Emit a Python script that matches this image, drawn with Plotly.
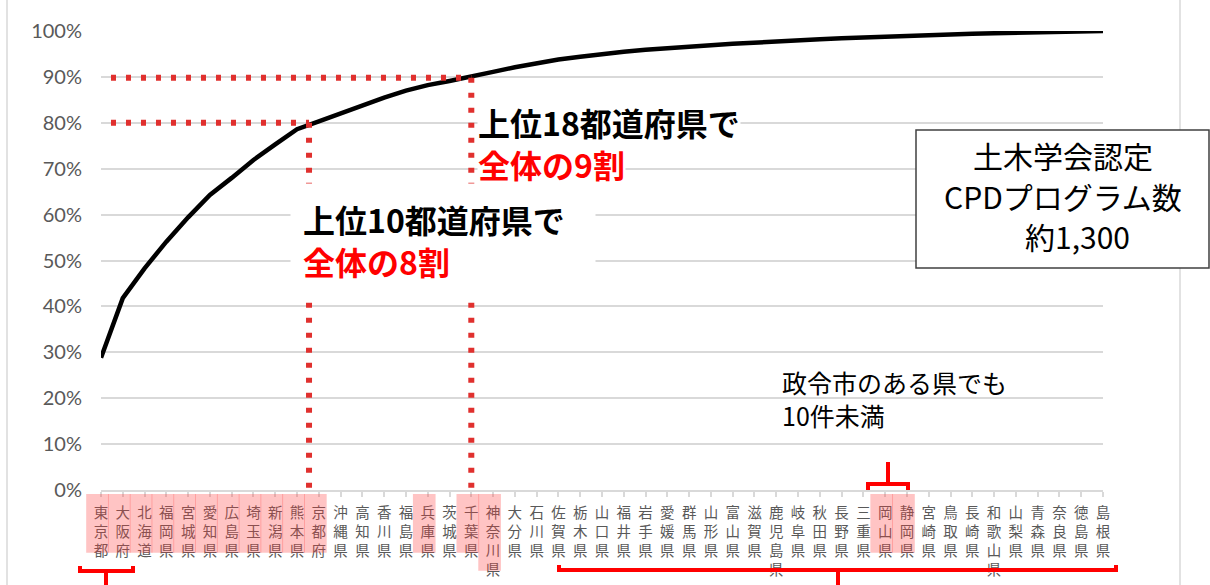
import plotly.graph_objects as go

# ---------------- data ----------------
prefectures = [
    "東京都", "大阪府", "北海道", "福岡県", "宮城県", "愛知県", "広島県", "埼玉県",
    "新潟県", "熊本県", "京都府", "沖縄県", "高知県", "香川県", "福島県", "兵庫県",
    "茨城県", "千葉県", "神奈川県", "大分県", "石川県", "佐賀県", "栃木県", "山口県",
    "福井県", "岩手県", "愛媛県", "群馬県", "山形県", "富山県", "滋賀県", "鹿児島県",
    "岐阜県", "秋田県", "長野県", "三重県", "岡山県", "静岡県", "宮崎県", "鳥取県",
    "長崎県", "和歌山県", "山梨県", "青森県", "奈良県", "徳島県", "島根県",
]
cumulative_share = [
    28.8, 41.8, 48.3, 54.1, 59.4, 64.3, 68.0, 71.9, 75.3, 78.6, 80.3,
    82.1, 83.9, 85.5, 87.0, 88.2, 89.1, 90.2, 91.1, 92.1, 93.0, 93.8, 94.4,
    95.0, 95.5, 95.9, 96.3, 96.6, 96.9, 97.2, 97.5, 97.8, 98.0, 98.2, 98.4,
    98.6, 98.8, 99.0, 99.1, 99.3, 99.4, 99.5, 99.6, 99.7, 99.8, 99.9, 100.0,
]
designated_city_prefs = [
    "東京都", "大阪府", "北海道", "福岡県", "宮城県", "愛知県", "広島県", "埼玉県",
    "新潟県", "熊本県", "京都府", "兵庫県", "千葉県", "神奈川県", "岡山県", "静岡県",
]
y_tick_vals = [0, 10, 20, 30, 40, 50, 60, 70, 80, 90, 100]
y_tick_text = [f"{v}%" for v in y_tick_vals]
tick_text = ["<br>".join(p) for p in prefectures]
box_lines = ["土木学会認定", "CPDプログラム数", "　約1,300"]

# ---------------- geometry helpers ----------------
W, H = 1210, 585
L, R, T, B = 101, 107, 31, 95
PW, PH = W - L - R, H - T - B
STEP = PW / (len(prefectures) - 1)


def px(xp):
    return (xp - L) / PW


def py(yp):
    return (H - B - yp) / PH


def cat_paper(i):
    return i * STEP / PW


JP = "Noto Sans CJK JP"
GRID = "#D9D9D9"
TXT = "#595959"
DOT_RED = "#E0302E"

fig = go.Figure(
    go.Scatter(
        x=prefectures,
        y=cumulative_share,
        mode="lines",
        line=dict(color="black", width=4.5),
        cliponaxis=False,
        hoverinfo="skip",
        showlegend=False,
    )
)

shapes = []
# frame lines of the original slide chart
for xp in (7, 1180):
    shapes.append(dict(type="line", xref="paper", yref="paper",
                       x0=px(xp), x1=px(xp), y0=py(H + 5), y1=py(-5),
                       line=dict(color=GRID, width=1.5), layer="below"))

# pink highlight over labels
for p in designated_city_prefs:
    i = prefectures.index(p)
    bottom = 570.7 if len(p) == 4 else 552.7
    shapes.append(dict(type="rect", xref="paper", yref="paper",
                       x0=cat_paper(i - 0.68), x1=cat_paper(i + 0.36), y0=py(494), y1=py(bottom),
                       fillcolor="rgba(255,60,60,0.30)", line=dict(width=0),
                       layer="above"))

# red dotted guide lines
dot = dict(color=DOT_RED, width=6, dash="5px,10px")
i10 = 9.55
i18 = prefectures.index("千葉県")
shapes += [
    dict(type="line", xref="x", yref="y", x0=-0.23, x1=i10, y0=80, y1=80, line=dot, layer="above"),
    dict(type="line", xref="x", yref="y", x0=i10, x1=i10, y0=80, y1=0, line=dot, layer="above"),
    dict(type="line", xref="x", yref="y", x0=-0.23, x1=i18, y0=89.8, y1=89.8, line=dot, layer="above"),
    dict(type="line", xref="x", yref="y", x0=i18, x1=i18, y0=89.8, y1=0, line=dot, layer="above"),
]


# red brackets
def bracket(x0, x1, yh, yend, xs, ystem):
    return (f"M{px(x0)},{py(yend)} L{px(x0)},{py(yh)} L{px(x1)},{py(yh)} L{px(x1)},{py(yend)} "
            f"M{px(xs)},{py(yh)} L{px(xs)},{py(ystem)}")


for path in (
    bracket(80, 133, 571, 566, 106, 592),
    bracket(559, 1116, 570, 565, 838, 592),
    bracket(868, 908, 484, 490, 888, 462),
):
    shapes.append(dict(type="path", xref="paper", yref="paper", path=path,
                       line=dict(color="#FF0000", width=4), layer="above"))

# info box frame
shapes.append(dict(type="rect", xref="paper", yref="paper",
                   x0=px(916), x1=px(1209), y0=py(268), y1=py(130),
                   fillcolor="white", line=dict(color="#404040", width=1.5), layer="above"))

annotations = [
    dict(xref="paper", yref="paper", x=px(290), y=py(240), xanchor="left", yanchor="middle",
         text="<b>上位10都道府県で</b><br><b><span style='color:#FF0000'>全体の8割</span></b>",
         font=dict(family=JP, size=32, color="black"), align="left",
         bgcolor="white", borderpad=12, width=280, showarrow=False),
    dict(xref="paper", yref="paper", x=px(477), y=py(122.5), xanchor="left", yanchor="middle",
         text="<b>上位18都道府県で</b>", font=dict(family=JP, size=32, color="black"),
         align="left", bgcolor="white", borderpad=0, showarrow=False),
    dict(xref="paper", yref="paper", x=px(477), y=py(164), xanchor="left", yanchor="middle",
         text="<b>全体の9割</b>", font=dict(family=JP, size=32, color="#FF0000"),
         align="left", bgcolor="white", borderpad=0, showarrow=False),
    dict(xref="paper", yref="paper", x=px(780), y=py(398.5), xanchor="left", yanchor="middle",
         text="政令市のある県でも<br>10件未満",
         font=dict(family=JP, size=25, color="black"), align="left", showarrow=False),
]
for line_text, yc in zip(box_lines, (155, 196, 236)):
    annotations.append(dict(xref="paper", yref="paper", x=px(1062.5), y=py(yc),
                            xanchor="center", yanchor="middle", text=line_text,
                            font=dict(family=JP, size=30, color="black"),
                            showarrow=False))

fig.update_layout(
    width=W, height=H,
    margin=dict(l=L, r=R, t=T, b=B, pad=0),
    paper_bgcolor="white", plot_bgcolor="white",
    shapes=shapes, annotations=annotations,
    showlegend=False,
    xaxis=dict(
        type="category", range=[0, len(prefectures) - 1],
        tickmode="array", tickvals=prefectures, ticktext=tick_text, tickangle=0,
        ticks="outside", ticklen=5, tickwidth=1.5, tickcolor=GRID,
        showline=True, linecolor=GRID, linewidth=1.5, showgrid=False, zeroline=False,
        tickfont=dict(family=JP, size=14.5, color=TXT), ticklabelstandoff=4,
        automargin=False, fixedrange=True,
    ),
    yaxis=dict(
        range=[0, 100], tickmode="array", tickvals=y_tick_vals, ticktext=y_tick_text,
        showgrid=True, gridcolor=GRID, gridwidth=1.5, zeroline=False, showline=False,
        ticks="", tickfont=dict(family="Lato", size=20, color=TXT), ticklabelstandoff=18,
        automargin=False, fixedrange=True,
    ),
)

fig.write_html("out.html")
